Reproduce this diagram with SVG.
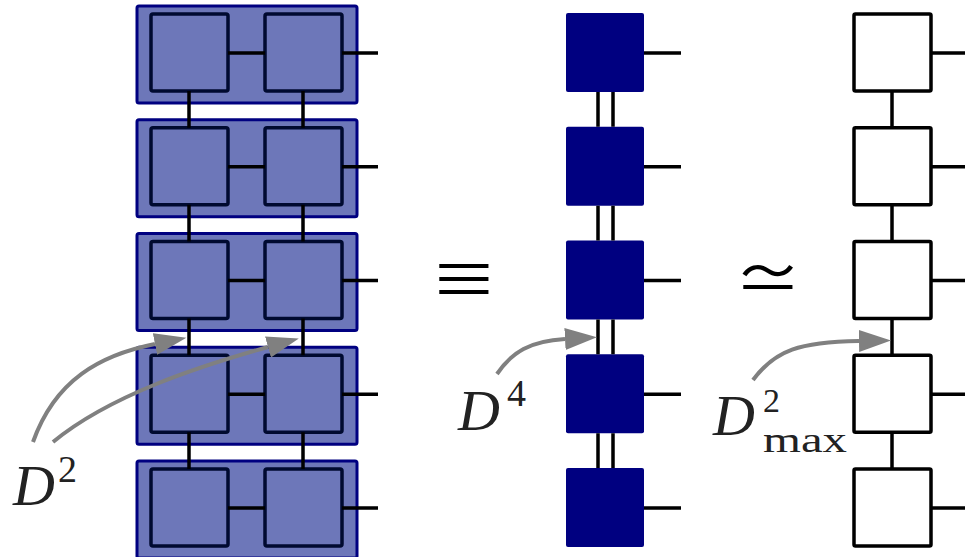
<svg xmlns="http://www.w3.org/2000/svg" width="965" height="557" viewBox="0 0 965 557">
<defs>
<style>
.outer{fill:#6d77b9;stroke:#000080;stroke-width:3}
.inner{fill:#6d77b9;stroke:#000a30;stroke-width:3.5}
.dark{fill:#000080}
.white{fill:#ffffff;stroke:#000000;stroke-width:3.5}
.ln{stroke:#000000;stroke-width:3.5;fill:none}
.arr{stroke:#808080;stroke-width:4;fill:none;marker-end:url(#ah)}
.lbl{font-family:"Liberation Serif","DejaVu Serif",serif;fill:#222222}
.sym{font-family:"Noto Sans CJK SC","DejaVu Sans",sans-serif;fill:#000000}
</style>
<marker id="ah" markerUnits="userSpaceOnUse" markerWidth="34" markerHeight="24" refX="0" refY="11" orient="auto" viewBox="0 0 34 24">
<path d="M0,0 L32,11 L0,22 z" fill="#808080"/>
</marker>
</defs>
<rect width="965" height="557" fill="#ffffff"/>

<!-- left column nodes -->
<g id="L0" transform="translate(0,0)"><rect class="outer" x="137" y="6" width="220" height="97" rx="2"/><rect class="inner" x="151" y="14" width="77" height="77" rx="2"/><rect class="inner" x="265" y="14" width="77" height="77" rx="2"/></g>
<g id="L1" transform="translate(0,113.75)"><rect class="outer" x="137" y="6" width="220" height="97" rx="2"/><rect class="inner" x="151" y="14" width="77" height="77" rx="2"/><rect class="inner" x="265" y="14" width="77" height="77" rx="2"/></g>
<g id="L2" transform="translate(0,227.5)"><rect class="outer" x="137" y="6" width="220" height="97" rx="2"/><rect class="inner" x="151" y="14" width="77" height="77" rx="2"/><rect class="inner" x="265" y="14" width="77" height="77" rx="2"/></g>
<g id="L3" transform="translate(0,341.25)"><rect class="outer" x="137" y="6" width="220" height="97" rx="2"/><rect class="inner" x="151" y="14" width="77" height="77" rx="2"/><rect class="inner" x="265" y="14" width="77" height="77" rx="2"/></g>
<g id="L4" transform="translate(0,455)"><rect class="outer" x="137" y="6" width="220" height="97" rx="2"/><rect class="inner" x="151" y="14" width="77" height="77" rx="2"/><rect class="inner" x="265" y="14" width="77" height="77" rx="2"/></g>

<!-- middle column nodes -->
<g id="M0"><rect class="dark" x="566" y="13" width="78" height="79" rx="2"/></g>
<g id="M1"><rect class="dark" x="566" y="126.75" width="78" height="79" rx="2"/></g>
<g id="M2"><rect class="dark" x="566" y="240.5" width="78" height="79" rx="2"/></g>
<g id="M3"><rect class="dark" x="566" y="354.25" width="78" height="79" rx="2"/></g>
<g id="M4"><rect class="dark" x="566" y="468" width="78" height="79" rx="2"/></g>

<!-- right column nodes -->
<g id="R0"><rect class="white" x="854" y="14" width="77" height="77" rx="1.5"/></g>
<g id="R1"><rect class="white" x="854" y="127.75" width="77" height="77" rx="1.5"/></g>
<g id="R2"><rect class="white" x="854" y="241.5" width="77" height="77" rx="1.5"/></g>
<g id="R3"><rect class="white" x="854" y="355.25" width="77" height="77" rx="1.5"/></g>
<g id="R4"><rect class="white" x="854" y="469" width="77" height="77" rx="1.5"/></g>

<!-- connectors -->
<g id="connectors" class="ln">
<path d="M228,53H265M342,53H378"/>
<path d="M228,166.75H265M342,166.75H378"/>
<path d="M228,280.5H265M342,280.5H378"/>
<path d="M228,394.25H265M342,394.25H378"/>
<path d="M228,508H265M342,508H378"/>
<path d="M189,91V127.75M303,91V127.75"/>
<path d="M189,204.75V241.5M303,204.75V241.5"/>
<path d="M189,318.5V355.25M303,318.5V355.25"/>
<path d="M189,432.25V469M303,432.25V469"/>
<path d="M644,53H681M644,166.75H681M644,280.5H681M644,394.25H681M644,508H681"/>
<path d="M598,92V126.75M613,92V126.75"/>
<path d="M598,205.75V240.5M613,205.75V240.5"/>
<path d="M598,319.5V354.25M613,319.5V354.25"/>
<path d="M598,433.25V468M613,433.25V468"/>
<path d="M931,53H965M931,166.75H965M931,280.5H965M931,394.25H965M931,508H965"/>
<path d="M892,91V127.75M892,204.75V241.5M892,318.5V355.25M892,432.25V469"/>
</g>

<!-- arrows -->
<g id="arrows">
<path class="arr" d="M33,442 C55,380 100,355 155,344"/>
<path class="arr" d="M53,442 C110,395 200,366 268,347"/>
<path class="arr" d="M497,374 C512,352 530,341 565,339"/>
<path class="arr" d="M753,380 C775,350 800,342 859,341"/>
</g>

<!-- symbols -->
<text class="sym" font-size="60" text-anchor="middle" transform="translate(464,302) scale(1.13,1)">≡</text>
<text class="sym" font-size="60" text-anchor="middle" transform="translate(768,301) scale(1.13,1)">≃</text>

<!-- labels -->
<g id="label-D2"><text class="lbl" x="13" y="505" font-size="58" font-style="italic">D</text><text class="lbl" x="58" y="482" font-size="38">2</text></g>
<g id="label-D4"><text class="lbl" x="458" y="430" font-size="58" font-style="italic">D</text><text class="lbl" x="507" y="406" font-size="38">4</text></g>
<g id="label-Dmax"><text class="lbl" x="713" y="435" font-size="58" font-style="italic">D</text><text class="lbl" x="763" y="412" font-size="34">2</text><text class="lbl" x="763" y="452" font-size="36" textLength="84" lengthAdjust="spacingAndGlyphs">max</text></g>
</svg>
